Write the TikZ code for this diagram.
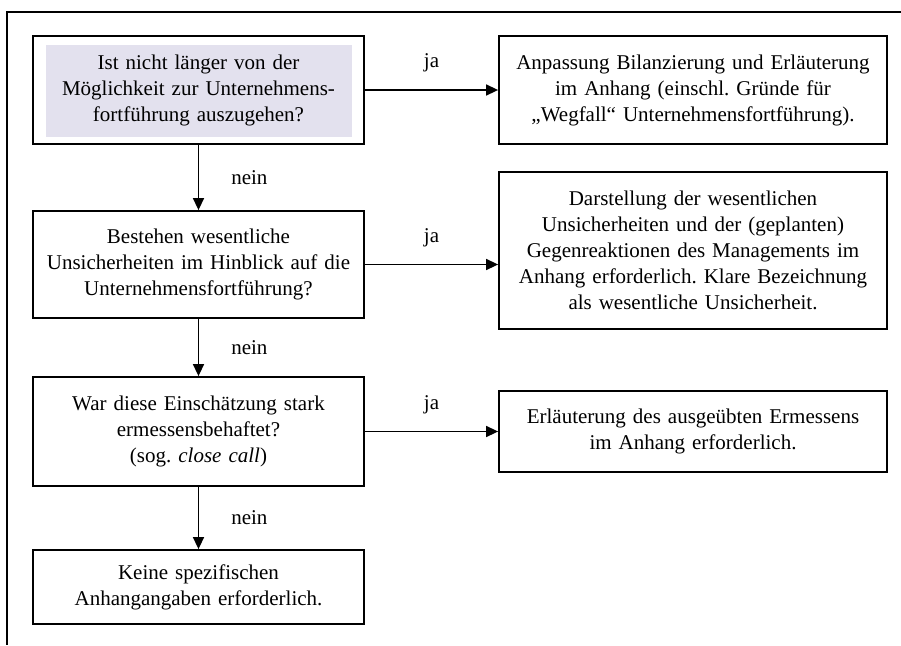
\documentclass[tikz,border=0pt]{standalone}
\usepackage{fontspec}
\setmainfont{Liberation Serif}
\usetikzlibrary{arrows.meta}
\definecolor{lav}{RGB}{227,225,238}
\frenchspacing
\tikzset{
  box/.style={draw=black, line width=1.8pt, align=center, inner sep=0pt,
    font=\fontsize{21}{26}\selectfont},
  leftbox/.style={box, minimum width=331pt, text width=325pt},
  rightbox/.style={box, minimum width=388pt, text width=380pt},
  conn/.style={line width=1.5pt, -{Triangle[length=12pt,width=11pt]}},
  lbl/.style={font=\fontsize{21}{26}\selectfont, inner sep=0pt},
  frameline/.style={line width=1.4pt}
}
\begin{document}
\begin{tikzpicture}[x=1pt,y=-1pt]
\useasboundingbox (0,0) rectangle (901,645);
\draw[frameline] (901,12) -- (7,12) -- (7,645);

\node[leftbox, minimum height=108pt,
  path picture={\fill[lav] ([shift={(13pt,-9pt)}]path picture bounding box.north west) rectangle ([shift={(-12pt,7pt)}]path picture bounding box.south east);}]
  (b1) at (198.5,90) {Ist nicht länger von der\\Möglichkeit zur Unternehmens-\\fortführung auszugehen?};
\node[rightbox, minimum height=108pt] (b2) at (693,90)
  {Anpassung Bilanzierung und Erläuterung\\im Anhang (einschl. Gründe für\\„Wegfall“ Unternehmensfortführung).};
\node[leftbox, minimum height=107pt] (b3) at (198.5,264.5)
  {Bestehen wesentliche\\Unsicherheiten im Hinblick auf die\\Unternehmensfortführung?};
\node[rightbox, minimum height=157pt] (b4) at (693,250.5)
  {Darstellung der wesentlichen\\Unsicherheiten und der (geplanten)\\Gegenreaktionen des Managements im\\Anhang erforderlich. Klare Bezeichnung\\als wesentliche Unsicherheit.};
\node[leftbox, minimum height=109pt] (b5) at (198.5,431.5)
  {War diese Einschätzung stark\\ermessensbehaftet?\\(sog. \textit{close call})};
\node[rightbox, minimum height=81pt] (b6) at (693,431.5)
  {Erläuterung des ausgeübten Ermessens\\im Anhang erforderlich.};
\node[leftbox, minimum height=74pt] (b7) at (198.5,587)
  {Keine spezifischen\\Anhangangaben erforderlich.};

\draw[conn] (b1.south) -- node[lbl, midway, right=32pt] {nein} (b3.north);
\draw[conn] (b3.south) -- node[lbl, midway, right=32pt] {nein} (b5.north);
\draw[conn] (b5.south) -- node[lbl, midway, right=32pt] {nein} (b7.north);

\draw[conn] (b1.east) -- node[lbl, midway, above=17pt] {ja} (b2.west);
\draw[conn] (b3.east) -- node[lbl, midway, above=17pt] {ja} (b3.east -| b4.west);
\draw[conn] (b5.east) -- node[lbl, midway, above=17pt] {ja} (b6.west);
\end{tikzpicture}
\end{document}
